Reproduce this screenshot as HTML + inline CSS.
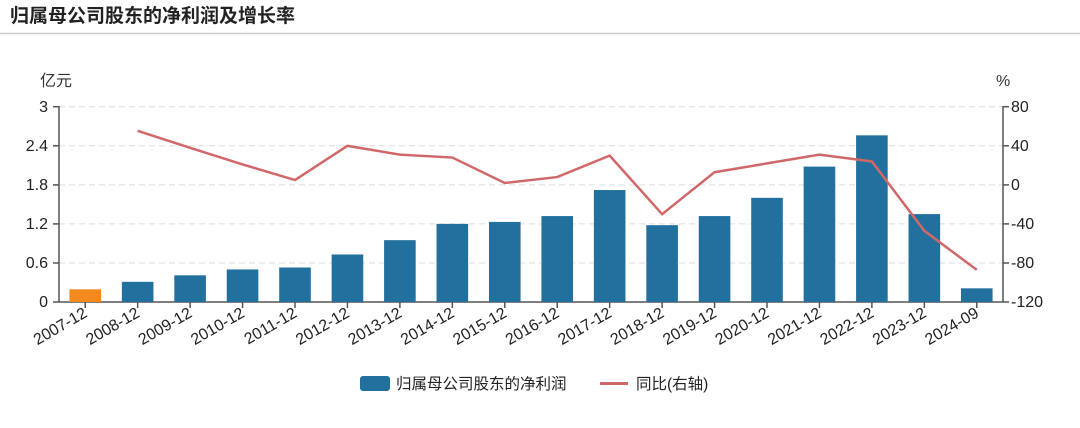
<!DOCTYPE html>
<html><head><meta charset="utf-8"><style>
body{margin:0;background:#fff;}
svg text{font-family:"Liberation Sans","Noto Sans CJK SC",sans-serif;}
</style></head><body>
<svg width="1080" height="423" xmlns="http://www.w3.org/2000/svg">
<text x="10" y="22" font-size="19" font-weight="bold" fill="#222">归属母公司股东的净利润及增长率</text>
<line x1="0" y1="33.5" x2="1080" y2="33.5" stroke="#ccc" stroke-width="1.5"/>
<g id="grid" stroke="#ddd" stroke-dasharray="6,4" stroke-width="1">
<line x1="59" x2="1003" y1="106.7" y2="106.7"/>
<line x1="59" x2="1003" y1="145.8" y2="145.8"/>
<line x1="59" x2="1003" y1="184.9" y2="184.9"/>
<line x1="59" x2="1003" y1="223.9" y2="223.9"/>
<line x1="59" x2="1003" y1="263" y2="263"/>
</g>
<text x="40" y="86" font-size="16" fill="#333">亿元</text>
<text x="996" y="86" font-size="16" fill="#333">%</text>
<g font-size="16" fill="#222" text-anchor="end">
<text x="48" y="112">3</text><text x="48" y="151">2.4</text><text x="48" y="190">1.8</text>
<text x="48" y="229">1.2</text><text x="48" y="268">0.6</text><text x="48" y="307">0</text>
</g>
<g font-size="16" fill="#222">
<text x="1011" y="112">80</text><text x="1011" y="151">40</text><text x="1011" y="190">0</text>
<text x="1011" y="229">-40</text><text x="1011" y="268">-80</text><text x="1011" y="307">-120</text>
</g>
<g stroke="#555" stroke-width="1.5">
<line x1="59" y1="106" x2="59" y2="302"/><line x1="1003" y1="106" x2="1003" y2="302"/>
<line x1="53" y1="106.7" x2="59" y2="106.7"/><line x1="53" y1="145.8" x2="59" y2="145.8"/><line x1="53" y1="184.9" x2="59" y2="184.9"/><line x1="53" y1="223.9" x2="59" y2="223.9"/><line x1="53" y1="263" x2="59" y2="263"/><line x1="53" y1="302" x2="59" y2="302"/>
<line x1="1003" y1="106.7" x2="1009" y2="106.7"/><line x1="1003" y1="145.8" x2="1009" y2="145.8"/><line x1="1003" y1="184.9" x2="1009" y2="184.9"/><line x1="1003" y1="223.9" x2="1009" y2="223.9"/><line x1="1003" y1="263" x2="1009" y2="263"/><line x1="1003" y1="302" x2="1009" y2="302"/>
<line x1="59" y1="302" x2="1003" y2="302"/>
</g>
<g id="bars"></g>
<g id="ticks"></g>
<polyline id="ln" fill="none" stroke="#d0686a" stroke-width="2.5" points=""/>
<rect x="360" y="376" width="30" height="15" rx="3" fill="#22709e"/>
<text x="396" y="389" font-size="15.5" fill="#222">归属母公司股东的净利润</text>
<line x1="600" y1="383.5" x2="628" y2="383.5" stroke="#d0686a" stroke-width="3"/>
<text x="636" y="389" font-size="15.5" fill="#222">同比(右轴)</text>
</svg>
<script>
var cats=["2007-12","2008-12","2009-12","2010-12","2011-12","2012-12","2013-12","2014-12","2015-12","2016-12","2017-12","2018-12","2019-12","2020-12","2021-12","2022-12","2023-12","2024-09"];
var v=[0.195,0.31,0.41,0.5,0.53,0.73,0.95,1.2,1.23,1.32,1.72,1.18,1.32,1.6,2.08,2.56,1.35,0.21];
var p=[null,55.4,38,21,5,40,31,28,2,8,30,-30,13,22,31,24,-47,-87];
var ns="http://www.w3.org/2000/svg",b=document.getElementById("bars"),t=document.getElementById("ticks"),pts=[];
var bw=944/18;
cats.forEach(function(c,i){
 var cx=59+bw*(i+0.5),h=v[i]*65.1;
 var r=document.createElementNS(ns,"rect");
 r.setAttribute("x",cx-15.8);r.setAttribute("y",302-h);r.setAttribute("width",31.6);r.setAttribute("height",h);
 r.setAttribute("fill",i==0?"#f28a1e":"#22709e");b.appendChild(r);
 var l=document.createElementNS(ns,"line");
 l.setAttribute("x1",cx);l.setAttribute("x2",cx);l.setAttribute("y1",302);l.setAttribute("y2",308);
 l.setAttribute("stroke","#555");l.setAttribute("stroke-width","1.5");t.appendChild(l);
 var tx=document.createElementNS(ns,"text");
 tx.setAttribute("transform","translate("+(cx+3)+",316) rotate(-30)");
 tx.setAttribute("text-anchor","end");tx.setAttribute("font-size","16");tx.setAttribute("fill","#222");
 tx.textContent=c;t.appendChild(tx);
 if(p[i]!==null)pts.push(cx+","+(184.9-p[i]*0.9765));
});
document.getElementById("ln").setAttribute("points",pts.join(" "));
</script>
</body></html>
